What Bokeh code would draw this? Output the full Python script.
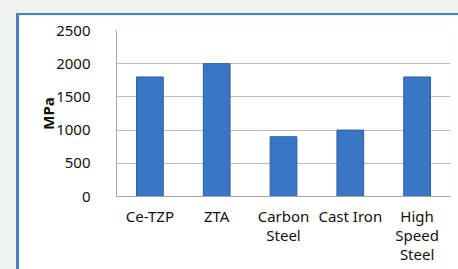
from bokeh.plotting import figure
from bokeh.layouts import column
from bokeh.models import FixedTicker
from bokeh.embed import file_html
from bokeh.resources import INLINE

categories = ["Ce-TZP", "ZTA", "Carbon\nSteel", "Cast Iron", "High\nSpeed\nSteel"]
values = [1800, 2000, 900, 1000, 1800]
y_ticks = [0, 500, 1000, 1500, 2000, 2500]

p = figure(frame_width=331, frame_height=164, x_range=categories, y_range=(0, 2500),
           output_backend="svg", toolbar_location=None,
           min_border_left=97, min_border_right=11, min_border_top=15, min_border_bottom=75)
p.border_fill_color = "white"
p.background_fill_color = "white"
p.outline_line_color = None
p.styles = {"border-top": "2px solid #4f81bd", "border-left": "3px solid #4f81bd"}

p.vbar(x=categories, top=values, width=0.4, fill_color="#3a76c6", line_color="#2c5e9e", line_width=1)

p.yaxis.ticker = FixedTicker(ticks=y_ticks)
p.xgrid.grid_line_color = None
p.ygrid.grid_line_color = "#bcbcbc"
p.ygrid.grid_line_width = 1

for ax in (p.xaxis[0], p.yaxis[0]):
    ax.axis_line_color = "#a8a8a8"
    ax.major_tick_line_color = None
    ax.minor_tick_line_color = None
    ax.major_label_text_font = "Noto Sans"
    ax.major_label_text_font_size = "15px"
    ax.major_label_text_color = "#111111"

p.xaxis.major_label_text_line_height = 0.95
p.yaxis.major_label_standoff = 20
p.xaxis.major_label_standoff = 3
p.yaxis.axis_label = "MPa"
p.yaxis.axis_label_text_font = "Noto Sans"
p.yaxis.axis_label_text_font_size = "15px"
p.yaxis.axis_label_text_font_style = "bold"
p.yaxis.axis_label_text_color = "#111111"
p.yaxis.axis_label_standoff = -5

layout = column(p, styles={"background-color": "#eef3ee", "padding-top": "13px", "padding-left": "16px"})

open("out.html", "w").write(file_html(layout, INLINE))
